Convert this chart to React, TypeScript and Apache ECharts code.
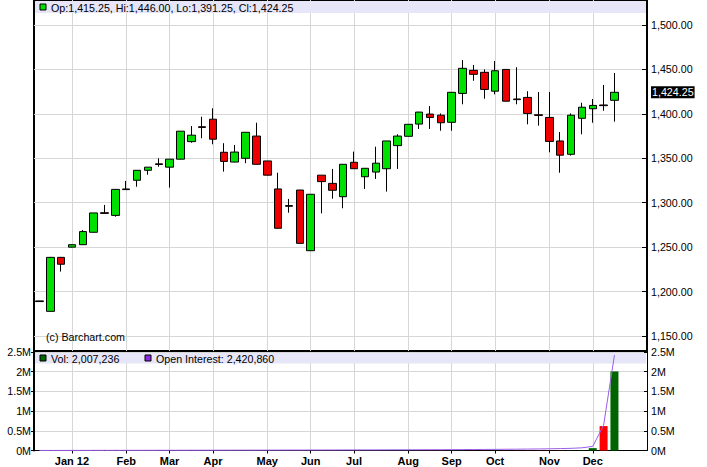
import React, { useEffect, useRef } from "react";
import * as echarts from "echarts";

// Weekly bars (week starting)
const weeks = [
  "2011-12-12", "2011-12-19", "2011-12-26",
  "2012-01-02", "2012-01-09", "2012-01-16", "2012-01-23", "2012-01-30",
  "2012-02-06", "2012-02-13", "2012-02-20", "2012-02-27",
  "2012-03-05", "2012-03-12", "2012-03-19", "2012-03-26",
  "2012-04-02", "2012-04-09", "2012-04-16", "2012-04-23", "2012-04-30",
  "2012-05-07", "2012-05-14", "2012-05-21", "2012-05-28",
  "2012-06-04", "2012-06-11", "2012-06-18", "2012-06-25",
  "2012-07-02", "2012-07-09", "2012-07-16", "2012-07-23", "2012-07-30",
  "2012-08-06", "2012-08-13", "2012-08-20", "2012-08-27",
  "2012-09-03", "2012-09-10", "2012-09-17", "2012-09-24",
  "2012-10-01", "2012-10-08", "2012-10-15", "2012-10-22", "2012-10-29",
  "2012-11-05", "2012-11-12", "2012-11-19", "2012-11-26",
  "2012-12-03", "2012-12-10", "2012-12-17",
];

const opens = [
  1189.5, 1177.75, 1238.5, 1250, 1252.75, 1266.75, 1288.75, 1285.75, 1315.5, 1325.25,
  1336.5, 1343.75, 1340, 1349, 1368.75, 1385.5, 1394, 1356.75, 1345.75, 1350,
  1375, 1347, 1315.5, 1296.75, 1314.25, 1246, 1331, 1321.75, 1306.75, 1345.5,
  1329.25, 1334.5, 1338.25, 1364.25, 1374.75, 1388.5, 1399.75, 1398.5, 1390.5, 1423,
  1449, 1446.75, 1425.5, 1450, 1416.75, 1418.5, 1399, 1396, 1369.5, 1354.5,
  1395, 1405.75, 1410, 1415.25,
];
const highs = [
  1189.5, 1239, 1239, 1253, 1269.25, 1288.5, 1297.5, 1315.25, 1324.5, 1336.5,
  1340, 1350, 1349, 1380.5, 1386.25, 1396.75, 1406.25, 1367, 1365, 1379.25,
  1390, 1347, 1333.75, 1304.25, 1314.5, 1309.75, 1331, 1338, 1343.5, 1357.5,
  1338.75, 1363, 1369.5, 1377, 1388.5, 1402.25, 1408.75, 1400.5, 1424.5, 1460.5,
  1455, 1450, 1459.5, 1450.25, 1452.5, 1425.5, 1424.5, 1424.5, 1379.5, 1400.5,
  1412.5, 1416.75, 1432.5, 1446,
];
const lows = [
  1188.5, 1177.5, 1222.5, 1249.75, 1252.5, 1266.5, 1287.75, 1284.25, 1314.75, 1318,
  1331.5, 1340.5, 1317, 1348.75, 1367.5, 1372.5, 1365.75, 1335, 1345.5, 1344.5,
  1343, 1330.75, 1271, 1288.75, 1254, 1245.75, 1288, 1304.5, 1293.75, 1338,
  1315.5, 1326.75, 1312.5, 1338, 1374.5, 1383, 1383, 1381, 1381, 1410.75,
  1437.25, 1417, 1422, 1414, 1410.75, 1388.25, 1386.75, 1356.75, 1333.75, 1353,
  1377, 1390, 1403.5, 1391.25,
];
const closes = [
  1188.75, 1238.5, 1230.75, 1252.75, 1267.5, 1288.5, 1288, 1315, 1314.75, 1336.5,
  1340, 1343, 1349, 1380.5, 1376, 1384.75, 1371.5, 1346.5, 1357, 1379.25,
  1343.25, 1331, 1271.25, 1296, 1254.25, 1309.5, 1323.75, 1314, 1343.25, 1338.25,
  1338.75, 1344.5, 1369.5, 1375, 1388.25, 1402, 1396, 1390, 1424.25, 1451.25,
  1444.5, 1427.5, 1448.5, 1414.25, 1416, 1400.5, 1398.25, 1369, 1353.5, 1398.5,
  1407.5, 1409.5, 1409.25, 1424.25,
];
const volumes = [
  300, 400, 350, 500, 450, 600, 550, 700, 650, 800,
  750, 900, 850, 1000, 950, 1100, 1050, 1200, 1150, 1300,
  1250, 1400, 1500, 1450, 1600, 1550, 1700, 1650, 1800, 1750,
  1900, 1850, 2000, 2100, 2050, 2200, 2300, 2250, 2400, 2600,
  2500, 2700, 2900, 2800, 3100, 3300, 3200, 3600, 3900, 4300,
  5200, 60000, 620000, 2007236,
];
const openInterest = [
  1200, 1500, 1900, 2300, 2600, 2900, 3300, 3600, 4000, 4200, 4700, 5100,
  5500, 5800, 6400, 6900, 7300, 7600, 8200, 8500, 9100, 9400, 10200, 10800,
  11300, 11900, 12400, 13000, 13600, 14100, 14800, 15400, 16300, 17100, 17900, 18800,
  19600, 20500, 21800, 23400, 25100, 26900, 28800, 31000, 33500, 36200, 39400, 43000,
  48500, 55000, 68000, 105000, 640000, 2420860,
];

const monthStarts = [
  "2012-01-02", "2012-02-06", "2012-03-05", "2012-04-02", "2012-05-07", "2012-06-04",
  "2012-07-02", "2012-08-06", "2012-09-03", "2012-10-01", "2012-11-05", "2012-12-03",
];
const monthNames = ["Jan 12", "Feb", "Mar", "Apr", "May", "Jun", "Jul", "Aug", "Sep", "Oct", "Nov", "Dec"];

const FONT = '"Liberation Sans", Arial, sans-serif';
const FS = 10.7;

const fmtPrice = (v: number) =>
  v.toLocaleString("en-US", { minimumFractionDigits: 2, maximumFractionDigits: 2 });
const fmtM = (v: number) => `${v / 1000000}M`;

export default function App() {
  const ref = useRef<HTMLDivElement>(null);

  useEffect(() => {
    if (!ref.current) return;
    const chart = echarts.init(ref.current, undefined, { renderer: "svg" });

    const n = weeks.length;
    const slotCount = n * 2 + 6;
    const slots: string[] = [];
    for (let s = 0; s < slotCount; s++) {
      const i = (s - 1) / 2;
      slots.push(s % 2 === 1 && i < n ? weeks[i] : `gap${s}`);
    }
    const weekIdx = (s: number) => (s % 2 === 1 && (s - 1) / 2 < n ? (s - 1) / 2 : -1);
    const labelMap: Record<string, string> = {};
    monthStarts.forEach((d, k) => (labelMap[d] = monthNames[k]));
    const isMonthSlot = (index: number) => {
      const i = weekIdx(index);
      return i >= 0 && labelMap[weeks[i]] !== undefined;
    };

    const candleData = slots.map((_, s) => {
      const i = weekIdx(s);
      return i >= 0 ? [opens[i], closes[i], lows[i], highs[i]] : ["-", "-", "-", "-"];
    });
    const volData = slots.map((_, s) => {
      const i = weekIdx(s);
      if (i < 0) return "-";
      return {
        value: volumes[i],
        itemStyle: { color: closes[i] > opens[i] ? "#006400" : "#ff0000" },
      };
    });
    const oiData = slots.map((_, s) => {
      const i = weekIdx(s);
      return i >= 0 ? openInterest[i] : "-";
    });

    const last = n - 1;
    const ohlcText = `Op:${fmtPrice(opens[last])}, Hi:${fmtPrice(highs[last])}, Lo:${fmtPrice(
      lows[last]
    )}, Cl:${fmtPrice(closes[last])}`;

    const grid = "#d6d6d6";

    chart.setOption({
      animation: false,
      backgroundColor: "#ffffff",
      textStyle: { fontFamily: FONT },
      grid: [
        { left: 34, top: 0, width: 613, height: 351, show: true, borderColor: "#000", borderWidth: 2, backgroundColor: "#fff" },
        { left: 34, top: 25, width: 613, height: 311 },
        { left: 34, top: 352, width: 613, height: 98.5 },
      ],
      xAxis: [
        {
          gridIndex: 0, type: "category", data: slots, boundaryGap: false,
          axisLine: { show: false }, axisTick: { show: false }, axisLabel: { show: false },
          splitLine: { show: true, interval: isMonthSlot, lineStyle: { color: grid, width: 1 } },
        },
        { gridIndex: 1, type: "category", data: slots, boundaryGap: false, show: false },
        {
          gridIndex: 2, type: "category", data: slots, boundaryGap: false,
          axisLine: { show: true, lineStyle: { color: "#000", width: 1 } },
          axisTick: { show: true, interval: isMonthSlot, length: 3, lineStyle: { color: "#000" } },
          axisLabel: {
            interval: isMonthSlot,
            formatter: (v: string) => labelMap[v] || "",
            fontWeight: "bold", fontSize: 11, color: "#000", margin: 5, fontFamily: FONT,
          },
          splitLine: { show: true, interval: isMonthSlot, lineStyle: { color: grid, width: 1 } },
        },
      ],
      yAxis: [
        { gridIndex: 0, type: "value", min: 0, max: 1, show: false, splitLine: { show: false } },
        {
          gridIndex: 1, type: "value", position: "right", min: 1150, max: 1500, interval: 50,
          axisLine: { show: false },
          axisTick: { show: true, inside: true, length: 5, lineStyle: { color: "#000" } },
          axisLabel: { formatter: fmtPrice, color: "#000", fontSize: FS, margin: 4, fontFamily: FONT },
          splitLine: { show: true, lineStyle: { color: grid, width: 1 } },
        },
        {
          gridIndex: 2, type: "value", position: "right", min: 0, max: 2500000, interval: 500000,
          axisLine: { show: true, lineStyle: { color: "#000", width: 1 } },
          axisTick: { show: true, inside: true, length: 3, lineStyle: { color: "#000" } },
          axisLabel: { formatter: fmtM, color: "#000", fontSize: FS, margin: 4, fontFamily: FONT },
          splitLine: { show: true, lineStyle: { color: grid, width: 1 } },
        },
        {
          gridIndex: 2, type: "value", position: "left", min: 0, max: 2500000, interval: 500000,
          axisLine: { show: true, lineStyle: { color: "#000", width: 2 } },
          axisTick: { show: true, inside: false, length: 3, lineStyle: { color: "#000" } },
          axisLabel: { formatter: fmtM, color: "#000", fontSize: FS, margin: 3, fontFamily: FONT },
          splitLine: { show: false },
        },
      ],
      series: [
        {
          type: "candlestick",
          xAxisIndex: 1, yAxisIndex: 1,
          data: candleData,
          barWidth: 8,
          itemStyle: {
            color: "#00e000", color0: "#ee0000",
            borderColor: "#000", borderColor0: "#000", borderColorDoji: "#000",
            borderWidth: 1,
          },
          markLine: {
            silent: true,
            symbol: ["none", "none"],
            lineStyle: { width: 0, color: "rgba(0,0,0,0)" },
            label: {
              show: true, position: "end", distance: 4,
              formatter: () => fmtPrice(closes[last]),
              color: "#fff", backgroundColor: "#000", padding: [1, 1, 0, 1],
              fontSize: FS, fontFamily: FONT,
            },
            data: [{ yAxis: closes[last] }],
          },
          z: 3,
        },
        {
          type: "bar", name: "Vol",
          xAxisIndex: 2, yAxisIndex: 2,
          data: volData, barWidth: 8, z: 3,
        },
        {
          type: "line", name: "Open Interest",
          xAxisIndex: 2, yAxisIndex: 2,
          data: oiData, connectNulls: true, showSymbol: false, symbol: "none",
          lineStyle: { color: "#9a5ee6", width: 1 }, z: 4,
        },
      ],
      graphic: [
        { type: "rect", z: 1, silent: true, shape: { x: 35, y: 1, width: 611, height: 12 }, style: { fill: "#e6e6f8" } },
        { type: "rect", z: 5, shape: { x: 40, y: 4, width: 6, height: 6 }, style: { fill: "#00e000", stroke: "#000", lineWidth: 1 } },
        { type: "text", z: 5, x: 51, y: 8, style: { text: ohlcText, fontSize: FS, fontFamily: FONT, fill: "#000", verticalAlign: "middle" } },
        { type: "text", z: 5, x: 46, y: 337, style: { text: "(c) Barchart.com", fontSize: FS, fontFamily: FONT, fill: "#000", verticalAlign: "middle" } },
        { type: "rect", z: 1, silent: true, shape: { x: 35, y: 353, width: 611, height: 10.5 }, style: { fill: "#e6e6f8" } },
        { type: "rect", z: 5, shape: { x: 40, y: 355, width: 6, height: 6 }, style: { fill: "#006400", stroke: "#000", lineWidth: 1 } },
        { type: "text", z: 5, x: 51, y: 358.5, style: { text: `Vol: ${volumes[last].toLocaleString("en-US")}`, fontSize: FS, fontFamily: FONT, fill: "#000", verticalAlign: "middle" } },
        { type: "rect", z: 5, shape: { x: 145, y: 355, width: 6, height: 6 }, style: { fill: "#8a2be2", stroke: "#000", lineWidth: 1 } },
        { type: "text", z: 5, x: 156, y: 358.5, style: { text: `Open Interest: ${openInterest[last].toLocaleString("en-US")}`, fontSize: FS, fontFamily: FONT, fill: "#000", verticalAlign: "middle" } },
      ],
    });

    return () => chart.dispose();
  }, []);

  return (
    <div
      ref={ref}
      style={{ position: "fixed", left: 0, top: 0, width: 707, height: 467, background: "#fff" }}
    />
  );
}
